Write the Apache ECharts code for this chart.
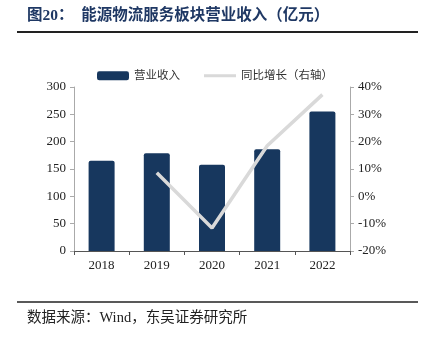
<!DOCTYPE html>
<html><head><meta charset="utf-8">
<script src="https://cdn.jsdelivr.net/npm/echarts@6/dist/echarts.min.js"></script>
<style>html,body{margin:0;padding:0;background:#fff}#c{width:421px;height:340px}</style>
</head><body><div id="c"></div>
<script>
const categories = ['2018','2019','2020','2021','2022'];
const revenue = [165, 179, 158, 186, 255];
const growth = [null, 8.6, -11.6, 18.5, 37.2];
const leftTicks = [0, 300, 50];
const rightTicks = [-20, 40, 10];

const chart = echarts.init(document.getElementById('c'), null, {renderer:'canvas'});
const serif = '"Liberation Serif","Times New Roman",serif';
const cjk = '"Liberation Serif","Noto Sans CJK SC",serif';
chart.setOption({
  animation:false,
  graphic:[
    {type:'text', left:27, top:8, style:{text:'图20：  能源物流服务板块营业收入（亿元）', font:'bold 15.5px "Liberation Serif","Noto Sans CJK SC",serif', fill:'#1f3864'}},
    {type:'line', shape:{x1:17,y1:32,x2:418,y2:32}, style:{stroke:'#222',lineWidth:2}},
    {type:'line', shape:{x1:17,y1:302,x2:418,y2:302}, style:{stroke:'#222',lineWidth:1.5}},
    {type:'text', left:27, top:311, style:{text:'数据来源：Wind，东吴证券研究所', font:'14.5px "Liberation Serif","Noto Sans CJK SC",serif', fill:'#222'}}
  ],
  legend:{
    top:65, left:92, itemGap:24, itemWidth:32, itemHeight:9,
    textStyle:{fontSize:11.5, fontFamily:cjk, color:'#333'},
    data:[{name:'营业收入', icon:'roundRect'},{name:'同比增长（右轴）', icon:'path://M0,0 L32,0 L32,3 L0,3 Z'}]
  },
  grid:{left:74, right:71, top:87, bottom:89},
  xAxis:{type:'category', data:categories,
    axisLine:{lineStyle:{color:'#555'}},
    axisTick:{show:true, length:4, lineStyle:{color:'#555'}},
    axisLabel:{fontFamily:serif, fontSize:13, color:'#222', margin:8}},
  yAxis:[
    {type:'value', min:leftTicks[0], max:leftTicks[1], interval:leftTicks[2],
     axisLine:{show:true, lineStyle:{color:'#aaa'}},
     axisTick:{show:true, length:4, lineStyle:{color:'#aaa'}},
     splitLine:{show:false},
     axisLabel:{fontFamily:serif, fontSize:13, color:'#222', margin:8}},
    {type:'value', min:rightTicks[0], max:rightTicks[1], interval:rightTicks[2],
     axisLine:{show:true, lineStyle:{color:'#aaa'}},
     axisTick:{show:true, length:4, lineStyle:{color:'#aaa'}},
     splitLine:{show:false},
     axisLabel:{fontFamily:serif, fontSize:13, color:'#222', margin:8, formatter:'{value}%'}}
  ],
  series:[
    {name:'营业收入', type:'bar', data:revenue, barWidth:26, itemStyle:{color:'#17375e', borderRadius:[2,2,0,0]}},
    {name:'同比增长（右轴）', type:'line', yAxisIndex:1, data:growth, symbol:'none', connectNulls:false,
     lineStyle:{color:'#d9d9d9', width:3.5}, itemStyle:{color:'#d9d9d9'}}
  ]
});
</script></body></html>
